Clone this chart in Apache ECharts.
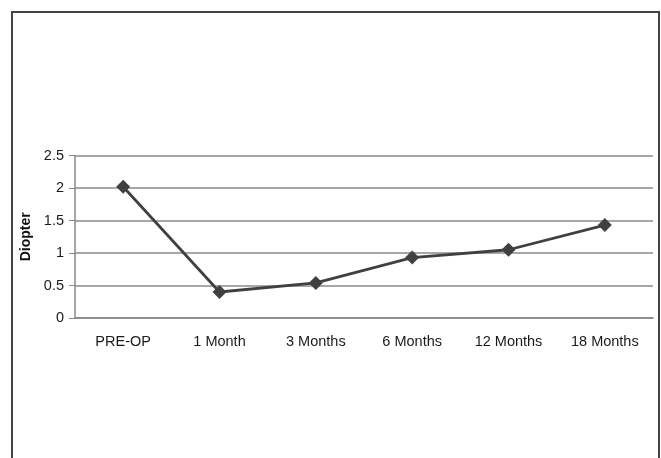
<!DOCTYPE html>
<html>
<head>
<meta charset="utf-8">
<script src="https://cdn.jsdelivr.net/npm/echarts@6/dist/echarts.min.js"></script>
<style>
html,body{margin:0;padding:0;background:#fff;}
#chart{width:661px;height:458px;}
</style>
</head>
<body>
<div id="chart"></div>
<script>
const categories = ['PRE-OP', '1 Month', '3 Months', '6 Months', '12 Months', '18 Months'];
const diopterValues = [2.02, 0.40, 0.54, 0.93, 1.05, 1.43];
const yAxisName = 'Diopter';
const yMin = 0, yMax = 2.5, yInterval = 0.5;

const chart = echarts.init(document.getElementById('chart'), null, {renderer: 'canvas'});
chart.setOption({
  animation: false,
  backgroundColor: '#fff',
  graphic: [{
    type: 'polyline',
    shape: {points: [[12, 470], [12, 12], [659, 12], [659, 470]]},
    style: {stroke: '#444', lineWidth: 2, fill: null},
    silent: true
  }],
  grid: {left: 75, right: 8, top: 155.5, bottom: 140, containLabel: false},
  xAxis: {
    type: 'category',
    data: categories,
    boundaryGap: true,
    axisLine: {show: true, lineStyle: {color: '#888', width: 1.5}},
    axisTick: {show: false},
    axisLabel: {color: '#1a1a1a', fontSize: 14.5, fontFamily: 'Liberation Sans, Arial, sans-serif', margin: 16}
  },
  yAxis: {
    type: 'value',
    min: yMin, max: yMax, interval: yInterval,
    name: yAxisName,
    nameLocation: 'middle',
    nameRotate: 90,
    nameGap: 40,
    nameTextStyle: {color: '#111', fontSize: 14, fontWeight: 'bold', fontFamily: 'Liberation Sans, Arial, sans-serif'},
    axisLine: {show: true, lineStyle: {color: '#888', width: 1.5}},
    axisTick: {show: true, length: 6, lineStyle: {color: '#888'}},
    axisLabel: {color: '#1a1a1a', fontSize: 14.5, fontFamily: 'Liberation Sans, Arial, sans-serif', margin: 11},
    splitLine: {show: true, lineStyle: {color: '#8a8a8a', width: 1.5}}
  },
  series: [{
    type: 'line',
    data: diopterValues,
    symbol: 'diamond',
    symbolSize: 14,
    lineStyle: {color: '#404040', width: 2.8},
    itemStyle: {color: '#404040'}
  }]
});
</script>
</body>
</html>
